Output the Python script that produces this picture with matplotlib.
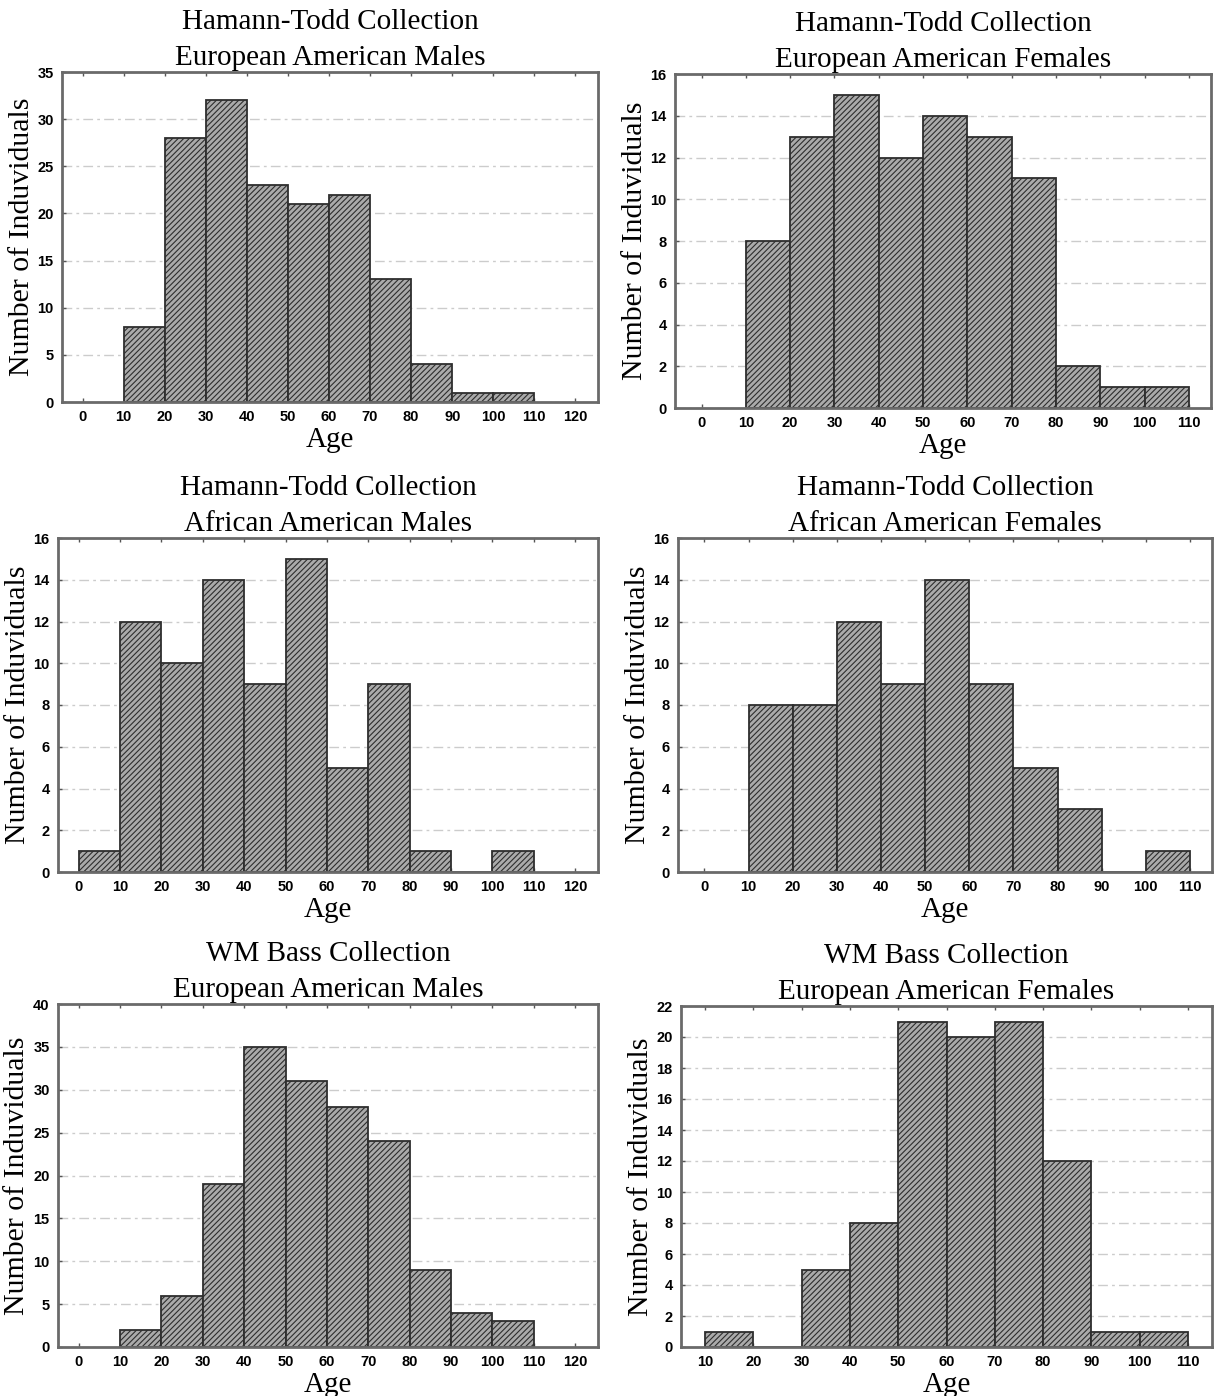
import numpy as np
import matplotlib
matplotlib.use('Agg')
import matplotlib.pyplot as plt

plt.rcParams['hatch.linewidth'] = 0.8

# bin left edges (width 10 years)
edges_a = [0, 10, 20, 30, 40, 50, 60, 70, 80, 90, 100]
edges_b = [10, 20, 30, 40, 50, 60, 70, 80, 90, 100]

ht_ea_males = [8, 28, 32, 23, 21, 22, 13, 4, 1, 1]
ht_ea_females = [8, 13, 15, 12, 14, 13, 11, 2, 1, 1]
ht_aa_males = [1, 12, 10, 14, 9, 15, 5, 9, 1, 0, 1]
ht_aa_females = [8, 8, 12, 9, 14, 9, 5, 3, 0, 1]
wm_ea_males = [2, 6, 19, 35, 31, 28, 24, 9, 4, 3]
wm_ea_females = [1, 0, 5, 8, 21, 20, 21, 12, 1, 1]

titles = ['Hamann-Todd Collection\nEuropean American Males',
          'Hamann-Todd Collection\nEuropean American Females',
          'Hamann-Todd Collection\nAfrican American Males',
          'Hamann-Todd Collection\nAfrican American Females',
          'WM Bass Collection\nEuropean American Males',
          'WM Bass Collection\nEuropean American Females']

W, H = 1217, 1396
fig = plt.figure(figsize=(W / 100, H / 100), dpi=100)

# (left, top, right, bottom) in pixels, xlim, xticks, ylim, ystep, data, edges
panels = [
    ((62, 72, 598, 402), (-5, 125.5), range(0, 121, 10), 35, 5, ht_ea_males, edges_b),
    ((675, 74, 1211, 408), (-6, 115), range(0, 111, 10), 16, 2, ht_ea_females, edges_b),
    ((58, 538, 598, 872), (-5, 125.5), range(0, 121, 10), 16, 2, ht_aa_males, edges_a),
    ((678, 538, 1212, 872), (-6, 115), range(0, 111, 10), 16, 2, ht_aa_females, edges_b),
    ((58, 1004, 598, 1347), (-5, 125.5), range(0, 121, 10), 40, 5, wm_ea_males, edges_b),
    ((681, 1006, 1212, 1347), (5, 115), range(10, 111, 10), 22, 2, wm_ea_females, edges_b),
]

for i, (box, xlim, xt, ymax, ystep, vals, edges) in enumerate(panels):
    l, t, r, b = box
    ax = fig.add_axes([l / W, 1 - b / H, (r - l) / W, (b - t) / H])
    ax.bar(edges, vals, width=10, align='edge', color='#aaaaaa',
           edgecolor='#2e2e2e', hatch='//////', linewidth=1.3, zorder=2)
    ax.set_xlim(*xlim)
    ax.set_ylim(0, ymax)
    ax.set_xticks(list(xt))
    ax.set_yticks(np.arange(0, ymax + 1, ystep))
    for lab in ax.get_xticklabels() + ax.get_yticklabels():
        lab.set_fontfamily('Liberation Sans')
        lab.set_fontweight('bold')
        lab.set_fontsize(10.5)
    ax.tick_params(direction='in', length=3, width=1, color='#555555',
                   top=True, right=False, pad=6)
    ax.grid(axis='y', color='#cccccc', linestyle=(0, (7, 3, 2, 3)), linewidth=1, zorder=0)
    ax.set_axisbelow(True)
    for s in ax.spines.values():
        s.set_color('#6a6a6a')
        s.set_linewidth(2)
    ax.set_title(titles[i], fontfamily='Liberation Serif', fontsize=21,
                 linespacing=1.5, pad=5)
    ax.set_xlabel('Age', fontfamily='Liberation Serif', fontsize=21, labelpad=2)
    ax.set_ylabel('Number of Induviduals', fontfamily='Liberation Serif',
                  fontsize=21.5, labelpad=2)

fig.savefig('out.png', dpi=100)
